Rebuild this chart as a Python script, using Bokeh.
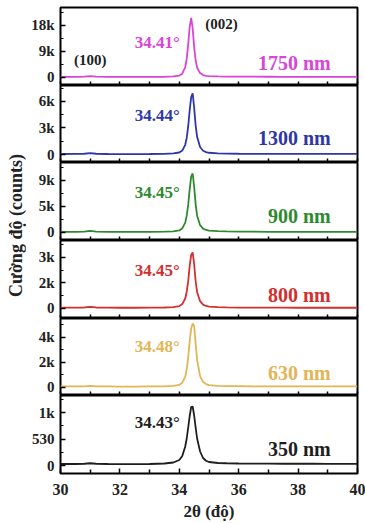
import math
from bokeh.plotting import figure
from bokeh.layouts import column, row
from bokeh.models import Range1d, FixedTicker
from bokeh.core.properties import value
from bokeh.embed import file_html
from bokeh.resources import INLINE

# ---- data ----
two_theta = [30.0, 30.5, 30.8, 31.0, 31.2, 31.6, 32.0, 32.5, 33.0, 33.5,
             33.8, 34.0, 34.1, 34.2, 34.25, 34.3, 34.35, 34.4, 34.45, 34.5,
             34.55, 34.6, 34.7, 34.8, 34.9, 35.0, 35.3, 35.6, 36.0, 36.5,
             37.0, 37.5, 38.0, 38.5, 39.0, 39.5, 40.0]

i_1750 = [200, 220, 260, 450, 260, 200, 180, 170, 180, 220,
          330, 650, 1300, 3600, 6500, 11500, 17500, 20600, 17000, 10500,
          6000, 3400, 1500, 800, 550, 430, 330, 280, 250, 240,
          230, 220, 220, 210, 210, 200, 200]
i_1300 = [60, 70, 90, 170, 90, 60, 50, 50, 60, 80,
          120, 230, 450, 1100, 1900, 3200, 5000, 6500, 6900, 5300,
          3300, 2000, 850, 430, 280, 200, 140, 110, 90, 80,
          80, 75, 75, 70, 70, 70, 70]
i_900 = [100, 110, 140, 260, 140, 100, 90, 80, 90, 120,
         180, 350, 700, 1700, 2900, 4800, 7500, 9700, 10200, 7900,
         4900, 2900, 1250, 650, 420, 300, 210, 170, 140, 120,
         110, 110, 100, 100, 100, 100, 100]
i_800 = [40, 40, 50, 90, 50, 40, 35, 35, 40, 50,
         70, 130, 250, 580, 980, 1600, 2500, 3150, 3300, 2600,
         1600, 950, 420, 220, 140, 100, 70, 55, 45, 40,
         40, 40, 35, 35, 35, 35, 35]
i_630 = [80, 80, 90, 130, 90, 80, 70, 70, 80, 90,
         120, 200, 380, 850, 1450, 2400, 3700, 4700, 5100, 4900,
         3500, 2200, 900, 430, 270, 190, 130, 110, 100, 90,
         90, 85, 85, 80, 80, 80, 80]
i_350 = [30, 30, 35, 45, 35, 30, 28, 28, 30, 40,
         60, 110, 190, 380, 540, 760, 990, 1170, 1180, 1000,
         760, 540, 280, 150, 95, 70, 50, 45, 40, 38,
         36, 35, 35, 35, 33, 33, 33]

samples = ["1750 nm", "1300 nm", "900 nm", "800 nm", "630 nm", "350 nm"]
peak_labels = ["34.41°", "34.44°", "34.45°", "34.45°", "34.48°", "34.43°"]
intensities = [i_1750, i_1300, i_900, i_800, i_630, i_350]

y_ticks = [[0, 9000, 18000], [0, 3000, 6000], [0, 4500, 9000],
           [0, 1500, 3000], [0, 2000, 4000], [0, 530, 1060]]
y_tick_labels = [["0", "9k", "18k"], ["0", "3k", "6k"], ["0", "5k", "9k"],
                 ["0", "2k", "3k"], ["0", "2k", "4k"], ["0", "530", "1k"]]
x_ticks = [30, 32, 34, 36, 38, 40]
x_minor = [31, 33, 35, 37, 39]

# ---- styling / layout ----
colors = ["#d846d8", "#2f37a8", "#2e8a2e", "#d32f2f", "#e2b556", "#1e1e1e"]
y_limits = [(-2800, 24200), (-900, 7800), (-1400, 12100),
            (-600, 4000), (-640, 5500), (-160, 1400)]
frame_heights = [78, 77, 78, 78, 77, 78]
peak_off = [35, 30, 30, 30, 28, 27]
sample_off = [55, 52, 53, 54, 54, 53]
FONT = "Liberation Serif"

x_range = Range1d(30, 40)
panels = []
for i in range(6):
    last = (i == 5)
    lo, hi = y_limits[i]
    fh = frame_heights[i]
    p = figure(frame_width=297, frame_height=fh, x_range=x_range,
               y_range=Range1d(lo, hi), output_backend="svg",
               toolbar_location=None, min_border_left=34, min_border_right=8,
               min_border_top=7 if i == 0 else 0,
               min_border_bottom=50 if last else 0)
    p.grid.visible = False
    p.outline_line_color = "black"
    p.outline_line_width = 2
    p.background_fill_color = "white"
    p.border_fill_color = "white"

    p.line(two_theta, intensities[i], line_color=colors[i], line_width=1.8)

    # y axis
    ya = p.yaxis[0]
    minor = [(y_ticks[i][k] + y_ticks[i][k + 1]) / 2 for k in range(2)]
    minor.append(y_ticks[i][2] + (y_ticks[i][2] - y_ticks[i][1]) / 2)
    ya.ticker = FixedTicker(ticks=y_ticks[i], minor_ticks=minor)
    ya.major_label_overrides = {t: l for t, l in zip(y_ticks[i], y_tick_labels[i])}
    ya.axis_line_color = None
    ya.major_tick_in = 5
    ya.major_tick_out = 0
    ya.minor_tick_in = 3
    ya.minor_tick_out = 0
    ya.major_tick_line_width = 1.5
    ya.major_label_text_font = FONT
    ya.major_label_text_font_style = "bold"
    ya.major_label_text_font_size = "15px"
    ya.major_label_text_color = "#222222"
    ya.major_label_standoff = 6

    # x axis
    xa = p.xaxis[0]
    xa.axis_line_color = None
    xa.major_tick_out = 0
    xa.minor_tick_out = 0
    xa.major_tick_line_width = 1.5
    xa.minor_tick_line_width = 1.5
    if last:
        xa.ticker = FixedTicker(ticks=x_ticks, minor_ticks=x_minor)
        xa.major_tick_in = 5
        xa.minor_tick_in = 4
        xa.major_label_text_font = FONT
        xa.major_label_text_font_style = "bold"
        xa.major_label_text_font_size = "16px"
        xa.major_label_text_color = "#222222"
        xa.major_label_standoff = 10
        xa.axis_label = "2θ (độ)"
        xa.axis_label_text_font = FONT
        xa.axis_label_text_font_style = "bold"
        xa.axis_label_text_font_size = "17px"
        xa.axis_label_text_color = "#222222"
        xa.axis_label_standoff = 4
    else:
        # only tick marks (no labels) on the upper panels
        xa.ticker = FixedTicker(ticks=[], minor_ticks=x_ticks + x_minor)
        xa.minor_tick_in = 4
        xa.major_label_standoff = 0

    span = hi - lo
    p.text(x=[34.02], y=[hi - peak_off[i] / fh * span], text=[peak_labels[i]],
           text_align="right", text_baseline="middle", text_color=colors[i],
           text_font=value(FONT), text_font_style="bold", text_font_size="17px")
    p.text(x=[39.1], y=[hi - sample_off[i] / fh * span], text=[samples[i]],
           text_align="right", text_baseline="middle", text_color=colors[i],
           text_font=value(FONT), text_font_style="bold", text_font_size="20px")
    if i == 0:
        p.text(x=[31.0], y=[hi - 52 / fh * span], text=["(100)"],
               text_align="center", text_baseline="middle", text_color="#222222",
               text_font=value(FONT), text_font_style="bold", text_font_size="15px")
        p.text(x=[35.42], y=[hi - 16 / fh * span], text=["(002)"],
               text_align="center", text_baseline="middle", text_color="#222222",
               text_font=value(FONT), text_font_style="bold", text_font_size="15px")
    panels.append(p)

# y-axis title as its own narrow figure spanning all panels
lf = figure(frame_width=26, frame_height=523, x_range=Range1d(0, 26),
            y_range=Range1d(0, 523), output_backend="svg", toolbar_location=None,
            min_border=0, x_axis_location=None, y_axis_location=None)
lf.grid.visible = False
lf.outline_line_color = None
lf.text(x=[15], y=[298], text=["Cường độ (counts)"], angle=math.pi / 2,
        text_align="center", text_baseline="middle", text_color="#222222",
        text_font=value(FONT), text_font_style="bold", text_font_size="18px")

layout = row(lf, column(*panels, spacing=0), spacing=0)
open("out.html", "w").write(file_html(layout, INLINE))
